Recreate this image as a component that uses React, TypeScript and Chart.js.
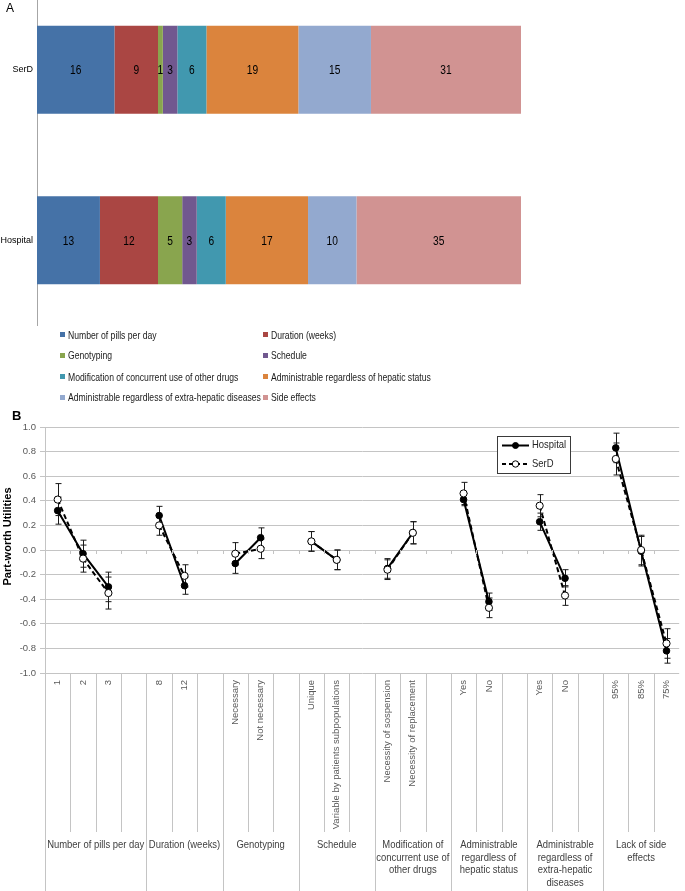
import React, { useEffect, useRef } from "react";
import { Chart, registerables } from "chart.js";

Chart.register(...registerables);

const FONT = '"Liberation Sans", Arial, sans-serif';

// ---------- Panel A data ----------
const groupsA = ["SerD", "Hospital"];
const attributeNames = [
  "Number of pills per day",
  "Duration (weeks)",
  "Genotyping",
  "Schedule",
  "Modification of concurrent use of other drugs",
  "Administrable regardless of hepatic status",
  "Administrable regardless of extra-hepatic diseases",
  "Side effects",
];
const attributeColors = ["#4572A7", "#AA4643", "#89A54E", "#71588F", "#4198AF", "#DB843D", "#93A9CF", "#D19392"];
const serdImportance = [16, 9, 1, 3, 6, 19, 15, 31];
const hospitalImportance = [13, 12, 5, 3, 6, 17, 10, 35];

// ---------- Panel B data ----------
const levelLabels = [
  "1", "2", "3", "",
  "8", "12", "",
  "Necessary", "Not necessary", "",
  "Unique", "Variable by patients subpopulations", "",
  "Necessity of sospension", "Necessity of replacement", "",
  "Yes", "No", "",
  "Yes", "No", "",
  "95%", "85%", "75%",
];
const groupSizes = [4, 3, 3, 3, 3, 3, 3, 3];
const groupLabels = [
  ["Number of pills per day"],
  ["Duration (weeks)"],
  ["Genotyping"],
  ["Schedule"],
  ["Modification of", "concurrent use of", "other drugs"],
  ["Administrable", "regardless of", "hepatic status"],
  ["Administrable", "regardless of", "extra-hepatic", "diseases"],
  ["Lack of side", "effects"],
];
const hospitalUtil = [0.32, -0.03, -0.30, null, 0.28, -0.29, null, -0.11, 0.10, null, 0.07, -0.08, null, -0.15, 0.14, null, 0.41, -0.42, null, 0.23, -0.23, null, 0.83, -0.01, -0.82];
const hospitalErr = [0.11, 0.11, 0.12, null, 0.075, 0.07, null, 0.08, 0.08, null, 0.08, 0.08, null, 0.08, 0.09, null, 0.05, 0.07, null, 0.07, 0.07, null, 0.12, 0.12, 0.10];
const serdUtil = [0.41, -0.07, -0.35, null, 0.20, -0.21, null, -0.03, 0.01, null, 0.07, -0.08, null, -0.16, 0.14, null, 0.46, -0.47, null, 0.36, -0.37, null, 0.74, 0.0, -0.76];
const serdErr = [0.13, 0.11, 0.13, null, 0.08, 0.09, null, 0.09, 0.08, null, 0.08, 0.08, null, 0.08, 0.09, null, 0.09, 0.08, null, 0.09, 0.08, null, 0.13, 0.12, 0.12];
const seriesNamesB = ["Hospital", "SerD"];
const yTitleB = "Part-worth Utilities";

const GRID = "#c4c4c4";

const barLabelPlugin = {
  id: "barLabels",
  afterDatasetsDraw(chart: any) {
    const ctx = chart.ctx;
    const area = chart.chartArea;
    ctx.save();
    ctx.font = `12px ${FONT}`;
    ctx.fillStyle = "#000";
    ctx.textAlign = "center";
    ctx.textBaseline = "middle";
    chart.data.datasets.forEach((ds: any, i: number) => {
      const meta = chart.getDatasetMeta(i);
      meta.data.forEach((bar: any, j: number) => {
        const x1 = Math.min(Math.max(bar.x, bar.base), area.right);
        const x0 = Math.max(Math.min(bar.x, bar.base), area.left);
        ctx.save();
        ctx.translate((x0 + x1) / 2, bar.y + 1);
        ctx.scale(0.85, 1);
        ctx.fillText(String(ds.data[j]), 0, 0);
        ctx.restore();
      });
    });
    ctx.restore();
  },
};

const panelBPlugin = {
  id: "panelB",
  beforeDatasetsDraw(chart: any) {
    const ctx = chart.ctx;
    const xs = chart.scales.x;
    const ys = chart.scales.y;
    ctx.save();
    ctx.strokeStyle = "#1a1a1a";
    ctx.lineWidth = 1;
    const pairs: any[] = [[hospitalUtil, hospitalErr], [serdUtil, serdErr]];
    pairs.forEach(([vals, errs]) => {
      vals.forEach((v: number | null, i: number) => {
        const e = errs[i];
        if (v == null || e == null) return;
        const x = Math.round(xs.getPixelForValue(i)) + 0.5;
        const yt = ys.getPixelForValue(v + e);
        const yb = ys.getPixelForValue(v - e);
        ctx.beginPath();
        ctx.moveTo(x, yt);
        ctx.lineTo(x, yb);
        ctx.moveTo(x - 3, yt);
        ctx.lineTo(x + 3, yt);
        ctx.moveTo(x - 3, yb);
        ctx.lineTo(x + 3, yb);
        ctx.stroke();
      });
    });
    ctx.restore();
  },
  afterDraw(chart: any) {
    const ctx = chart.ctx;
    const xs = chart.scales.x;
    const ys = chart.scales.y;
    const area = chart.chartArea;
    const H = chart.height;
    ctx.save();
    const groupBounds = new Set<number>();
    let acc = 0;
    groupBounds.add(0);
    groupSizes.forEach((g) => {
      acc += g;
      groupBounds.add(acc);
    });
    ctx.strokeStyle = GRID;
    ctx.lineWidth = 1;
    const n = levelLabels.length;
    for (let b = 0; b < n; b++) {
      const x = Math.round(xs.getPixelForValue(b - 0.5)) + 0.5;
      ctx.beginPath();
      ctx.moveTo(x, area.bottom);
      ctx.lineTo(x, groupBounds.has(b) ? H : area.bottom + 159);
      ctx.stroke();
      if (b > 0) {
        const y0 = Math.round(ys.getPixelForValue(0));
        ctx.beginPath();
        ctx.moveTo(x, y0);
        ctx.lineTo(x, y0 + 4);
        ctx.stroke();
      }
    }
    // group labels
    ctx.fillStyle = "#404040";
    ctx.font = `10.5px ${FONT}`;
    ctx.textAlign = "center";
    ctx.textBaseline = "middle";
    let start = 0;
    groupSizes.forEach((g, gi) => {
      const xa = xs.getPixelForValue(start - 0.5);
      const xb = xs.getPixelForValue(start + g - 0.5);
      groupLabels[gi].forEach((line, li) => {
        ctx.save();
        ctx.translate((xa + xb) / 2, area.bottom + 172 + li * 12.7);
        ctx.scale(0.9, 1);
        ctx.fillText(line, 0, 0);
        ctx.restore();
      });
      start += g;
    });
    // y title
    ctx.save();
    ctx.translate(8, 136.5);
    ctx.rotate(-Math.PI / 2);
    ctx.font = `bold 11.5px ${FONT}`;
    ctx.fillStyle = "#000";
    ctx.scale(0.96, 1);
    ctx.fillText(yTitleB, 0, 0);
    ctx.restore();
    // legend box
    const lx = 497, ly = 36, lw = 73, lh = 37;
    ctx.fillStyle = "#fff";
    ctx.fillRect(lx, ly, lw, lh);
    ctx.strokeStyle = "#3a3a3a";
    ctx.strokeRect(lx + 0.5, ly + 0.5, lw, lh);
    const rows = [ly + 9.5, ly + 28];
    rows.forEach((ry, ri) => {
      ctx.strokeStyle = "#000";
      ctx.lineWidth = 2;
      ctx.setLineDash(ri === 0 ? [] : [4, 3]);
      ctx.beginPath();
      ctx.moveTo(lx + 5, ry);
      ctx.lineTo(lx + 32, ry);
      ctx.stroke();
      ctx.setLineDash([]);
      ctx.lineWidth = 1;
      ctx.beginPath();
      ctx.arc(lx + 18.5, ry, ri === 0 ? 3 : 3.2, 0, Math.PI * 2);
      ctx.fillStyle = ri === 0 ? "#000" : "#fff";
      ctx.fill();
      ctx.stroke();
      ctx.fillStyle = "#262626";
      ctx.font = `10.5px ${FONT}`;
      ctx.textAlign = "left";
      ctx.save();
      ctx.translate(lx + 35, ry);
      ctx.scale(0.9, 1);
      ctx.fillText(seriesNamesB[ri], 0, 0);
      ctx.restore();
    });
    ctx.restore();
  },
};

export default function App() {
  const refA = useRef<HTMLCanvasElement | null>(null);
  const refB = useRef<HTMLCanvasElement | null>(null);

  useEffect(() => {
    const chartA = new Chart(refA.current as HTMLCanvasElement, {
      type: "bar",
      data: {
        labels: groupsA,
        datasets: attributeNames.map((name, i) => ({
          label: name,
          data: [serdImportance[i], hospitalImportance[i]],
          backgroundColor: attributeColors[i],
          borderWidth: 0,
          barPercentage: 0.516,
          categoryPercentage: 1,
        })),
      },
      options: {
        indexAxis: "y",
        responsive: false,
        animation: false,
        layout: { padding: { top: 7.25, bottom: 7.75, right: 164, left: 0 } },
        plugins: { legend: { display: false }, tooltip: { enabled: false } },
        scales: {
          x: { stacked: true, min: 0, max: 100, display: false },
          y: {
            stacked: true,
            grid: { display: false, drawTicks: false },
            border: { display: true, color: "#a6a6a6", width: 1 },
            ticks: { font: { family: FONT, size: 9 }, color: "#000", padding: 4 },
            afterFit: (s: any) => {
              s.width = 37;
            },
          },
        },
      } as any,
      plugins: [barLabelPlugin],
    });

    const chartB = new Chart(refB.current as HTMLCanvasElement, {
      type: "line",
      data: {
        labels: levelLabels,
        datasets: [
          {
            label: seriesNamesB[0],
            data: hospitalUtil,
            borderColor: "#000",
            borderWidth: 2,
            pointRadius: 3.3,
            pointBackgroundColor: "#000",
            pointBorderColor: "#000",
            pointBorderWidth: 1,
            spanGaps: false,
            fill: false,
            tension: 0,
            order: 1,
          },
          {
            label: seriesNamesB[1],
            data: serdUtil,
            borderColor: "#000",
            borderWidth: 2,
            borderDash: [5, 3],
            pointRadius: 3.6,
            pointBackgroundColor: "#fff",
            pointBorderColor: "#000",
            pointBorderWidth: 1,
            spanGaps: false,
            fill: false,
            tension: 0,
            order: 0,
          },
        ],
      },
      options: {
        responsive: false,
        animation: false,
        layout: { padding: { top: 27, right: 2, left: 0, bottom: 0 } },
        plugins: { legend: { display: false }, tooltip: { enabled: false } },
        scales: {
          x: {
            type: "category",
            offset: true,
            grid: { display: false, drawTicks: false },
            border: { display: false },
            ticks: {
              autoSkip: false,
              minRotation: 90,
              maxRotation: 90,
              padding: 7,
              font: { family: FONT, size: 9.5 },
              color: "#595959",
            },
            afterFit: (s: any) => {
              s.height = 218;
            },
          },
          y: {
            min: -1,
            max: 1,
            ticks: {
              stepSize: 0.2,
              callback: (v: any) => (Math.abs(Number(v)) < 1e-9 ? "0.0" : Number(v).toFixed(1)),
              font: { family: FONT, size: 9.5 },
              color: "#595959",
              padding: 4,
            },
            grid: { color: GRID, tickLength: 5, drawTicks: true, tickColor: GRID },
            border: { color: GRID },
            afterFit: (s: any) => {
              s.width = 45;
            },
          },
        },
      } as any,
      plugins: [panelBPlugin],
    });

    return () => {
      chartA.destroy();
      chartB.destroy();
    };
  }, []);

  const legendRowsY = [334.7, 355.3, 376.7, 397.3];
  const legendColsX = [60, 263];

  return (
    <div
      style={{
        position: "fixed",
        left: 0,
        top: 0,
        width: 685,
        height: 891,
        overflow: "hidden",
        background: "#fff",
        fontFamily: FONT,
      }}
    >
      <canvas
        ref={refA}
        width={685}
        height={360}
        style={{ position: "absolute", left: 0, top: -25, width: 685, height: 360 }}
      />
      <canvas
        ref={refB}
        width={685}
        height={491}
        style={{ position: "absolute", left: 0, top: 400, width: 685, height: 491 }}
      />
      <div style={{ position: "absolute", left: 6, top: 1.5, fontSize: 12, lineHeight: "12px", color: "#000" }}>A</div>
      <div style={{ position: "absolute", left: 12, top: 409, fontSize: 13, fontWeight: "bold", lineHeight: "13px", color: "#000" }}>B</div>
      {attributeNames.map((name, i) => {
        const col = i % 2;
        const row = Math.floor(i / 2);
        const x = legendColsX[col];
        const y = legendRowsY[row];
        return (
          <React.Fragment key={name}>
            <div
              style={{
                position: "absolute",
                left: x,
                top: y - 2.5,
                width: 5,
                height: 5,
                background: attributeColors[i],
              }}
            />
            <div
              style={{
                position: "absolute",
                left: x + 8,
                top: y - 7,
                fontSize: 10.5,
                lineHeight: "14px",
                whiteSpace: "nowrap",
                color: "#1a1a1a",
                transform: "scaleX(0.82)",
                transformOrigin: "0 50%",
              }}
            >
              {name}
            </div>
          </React.Fragment>
        );
      })}
    </div>
  );
}
